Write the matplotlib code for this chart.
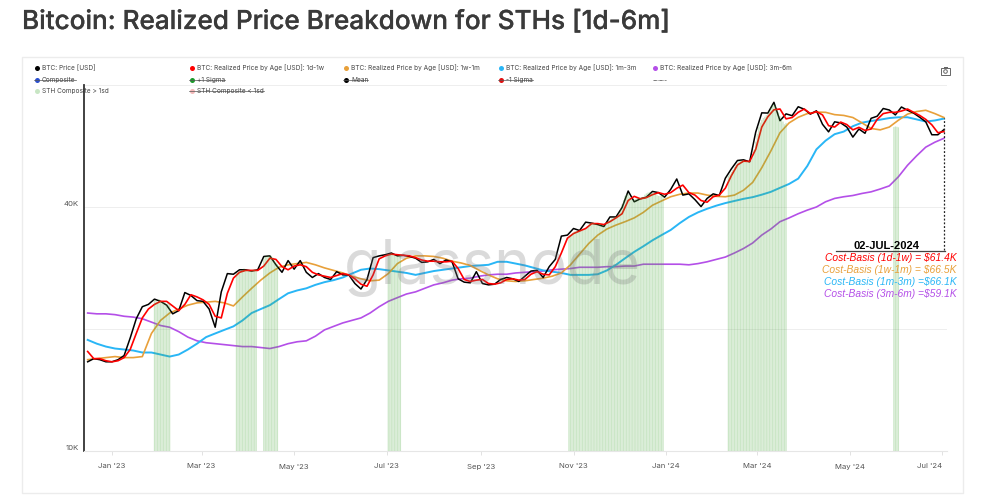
import matplotlib
matplotlib.use('Agg')
import matplotlib.pyplot as plt
import matplotlib.patheffects as pe
import numpy as np
import pandas as pd
from matplotlib.patches import Rectangle, Circle

# fine series, every 4 days
dates_fine = pd.date_range('2022-12-16', '2024-07-02', freq='4D')
price = [16.6, 16.9, 16.8, 16.6, 16.6, 16.8, 17.2, 19.0, 21.2, 22.7, 23.0, 23.7, 23.4, 22.9, 21.8, 22.2, 24.6, 24.2,
         23.5, 23.4, 22.4, 20.2, 24.7, 27.4, 27.3, 28.0, 28.0, 27.8, 28.0, 30.2, 30.3, 28.8, 27.6, 29.5, 28.1, 29.5,
         27.6, 26.8, 27.4, 26.8, 26.5, 27.7, 27.2, 27.2, 25.9, 25.1, 26.5, 30.0, 30.3, 30.5, 30.8, 30.3, 30.4, 30.2,
         29.9, 29.2, 29.3, 29.7, 29.0, 29.6, 29.3, 26.6, 26.1, 26.0, 27.7, 25.9, 25.7, 25.8, 26.5, 26.8, 26.6, 26.2,
         27.0, 27.8, 27.9, 26.8, 28.5, 29.7, 33.9, 34.1, 35.4, 35.0, 36.7, 36.5, 36.2, 35.8, 37.8, 37.8, 39.9, 43.8,
         41.2, 41.9, 42.3, 43.7, 43.4, 42.3, 44.2, 46.9, 42.8, 43.1, 41.7, 40.1, 42.0, 43.1, 42.7, 47.1, 49.7, 52.1,
         52.3, 51.7, 61.2, 68.3, 68.2, 72.5, 65.3, 67.9, 67.2, 70.7, 69.7, 67.8, 69.1, 64.0, 61.3, 64.9, 64.5, 63.0,
         59.5, 62.3, 60.8, 66.2, 67.0, 70.0, 69.4, 67.5, 70.6, 69.3, 68.2, 66.6, 64.9, 60.3, 60.3, 62.1]
rp_1d1w = [17.6, 16.9, 16.9, 16.7, 16.6, 16.7, 17.0, 17.8, 19.5, 21.3, 22.4, 23.0, 23.4, 23.4, 22.8, 22.2, 23.0, 24.3,
           24.0, 23.6, 23.0, 21.5, 21.3, 24.5, 26.7, 27.6, 27.9, 27.9, 27.9, 28.6, 29.9, 29.7, 28.5, 28.0, 28.6, 28.8,
           28.5, 27.6, 27.2, 27.0, 26.8, 27.1, 27.4, 27.2, 26.6, 25.8, 25.5, 27.2, 29.8, 30.3, 30.6, 30.5, 30.4, 30.3,
           30.0, 29.6, 29.4, 29.4, 29.3, 29.3, 29.4, 28.2, 26.5, 26.2, 26.4, 26.5, 25.9, 25.8, 26.0, 26.5, 26.6, 26.4,
           26.5, 27.3, 27.7, 27.3, 27.2, 28.5, 30.8, 33.5, 34.4, 34.9, 35.4, 36.4, 36.4, 36.2, 36.8, 37.6, 38.5, 41.5,
           42.5, 41.9, 42.2, 42.9, 43.4, 43.0, 43.4, 44.5, 45.3, 43.4, 42.8, 41.5, 41.1, 42.4, 42.8, 44.5, 47.8, 50.8,
           51.9, 51.8, 55.5, 63.0, 66.8, 69.5, 69.8, 66.0, 66.5, 68.5, 69.8, 68.0, 68.8, 67.5, 63.5, 63.0, 64.8, 63.9,
           62.0, 62.9, 61.8, 62.3, 65.8, 68.0, 68.5, 68.5, 69.0, 69.8, 68.5, 67.3, 65.8, 63.8, 61.0, 61.4]

# slower series, every 6 days
dates_slow = pd.date_range('2022-12-16', '2024-07-02', freq='6D')
rp_1w1m = [16.8, 16.9, 17.0, 17.1, 17.0, 17.0, 17.1, 19.5, 21.0, 21.9, 22.4, 22.9, 23.2, 23.3, 23.4, 23.2, 22.8, 24.0,
           25.2, 26.4, 27.5, 28.4, 28.8, 29.0, 29.2, 28.8, 28.3, 27.9, 27.5, 27.0, 26.6, 26.3, 26.4, 27.4, 29.0, 29.9,
           30.3, 30.3, 30.2, 29.9, 29.4, 29.1, 28.7, 27.9, 27.2, 26.6, 26.3, 26.2, 26.3, 26.5, 26.7, 27.0, 27.5, 28.8,
           30.6, 32.5, 34.1, 35.3, 36.1, 36.8, 37.6, 38.8, 40.4, 41.4, 42.4, 43.0, 43.3, 43.3, 42.8, 42.5, 42.4, 42.8,
           44.0, 46.0, 50.0, 55.0, 61.0, 64.5, 66.6, 68.0, 68.6, 68.5, 67.6, 67.3, 66.5, 64.5, 62.5, 62.0, 63.0, 65.5,
           67.8, 68.8, 69.3, 68.0, 66.5]
rp_1m3m = [18.8, 18.4, 18.1, 17.9, 17.8, 17.7, 17.5, 17.5, 17.3, 17.1, 17.3, 17.8, 18.4, 19.1, 19.5, 19.9, 20.3, 21.0,
           21.9, 22.4, 22.9, 23.7, 24.5, 24.9, 25.2, 25.7, 26.1, 26.4, 26.8, 27.4, 28.0, 28.2, 28.1, 27.9, 27.7, 27.5,
           27.2, 27.5, 27.8, 28.0, 28.2, 28.4, 28.6, 28.7, 28.8, 29.3, 29.3, 29.0, 28.7, 28.3, 27.9, 27.7, 27.5, 27.2,
           27.2, 27.2, 27.3, 27.9, 28.8, 29.9, 31.0, 32.0, 33.1, 34.1, 35.1, 36.5, 37.8, 38.8, 39.6, 40.3, 40.9, 41.4,
           41.9, 42.3, 42.9, 43.6, 44.6, 45.6, 47.0, 50.5, 55.5, 58.3, 60.5, 61.4, 63.3, 64.6, 65.2, 65.7, 66.3, 66.6,
           66.6, 65.8, 65.0, 65.4, 66.1]
rp_3m6m = [21.9, 21.8, 21.8, 21.7, 21.5, 21.4, 21.2, 20.8, 20.4, 20.2, 19.7, 19.1, 18.7, 18.5, 18.4, 18.3, 18.2, 18.1,
           18.1, 18.0, 17.9, 18.1, 18.4, 18.6, 18.7, 19.2, 19.9, 20.3, 20.7, 21.0, 21.3, 21.9, 22.7, 23.4, 23.9, 24.4,
           24.7, 25.2, 25.7, 26.0, 26.4, 26.6, 26.7, 27.0, 27.2, 27.3, 27.3, 27.5, 27.6, 27.7, 27.8, 28.0, 28.1, 28.2,
           28.4, 28.4, 28.4, 28.5, 28.5, 28.6, 28.6, 28.9, 28.9, 28.9, 28.9, 28.9, 28.8, 29.0, 29.3, 29.7, 30.1, 30.8,
           31.6, 32.6, 34.1, 35.3, 36.8, 37.6, 38.5, 39.3, 40.0, 41.2, 42.0, 42.4, 42.7, 43.2, 43.6, 44.3, 45.1, 47.5,
           50.7, 53.5, 56.2, 57.8, 59.1]

# days where STH composite > 1sd: first day of the run, then daily tops
band_starts = ['2023-01-29', '2023-03-24', '2023-04-11', '2023-07-02', '2023-10-29', '2024-02-11', '2024-05-30']
band_tops = [
    [23.6, 23.5, 23.3, 23.7, 23.4, 23.4, 23.3, 23.2, 23.0, 23.2, 23.0],
    [27.5, 27.6, 27.8, 27.9, 28.0, 28.2, 28.0, 27.9, 27.9, 27.8, 27.9, 28.0, 28.1, 27.9],
    [29.8, 30.2, 30.3, 30.3, 30.4, 30.3, 30.0, 29.5, 29.2, 28.9],
    [30.5, 30.6, 30.8, 30.6, 30.4, 30.3, 30.3, 30.4, 30.5],
    [33.8, 34.0, 34.3, 34.6, 34.9, 34.9, 34.8, 34.9, 35.1, 35.0, 35.1, 35.3, 35.6, 36.2, 36.4, 36.5, 36.6, 36.5,
     36.3, 36.2, 36.4, 36.3, 36.1, 36.0, 36.2, 36.6, 36.9, 37.2, 37.5, 37.7, 37.7, 37.9, 38.2, 38.8, 39.6, 40.6,
     41.6, 42.6, 43.0, 43.2, 42.4, 41.9, 41.6, 41.7, 41.9, 42.1, 42.2, 42.2, 42.3, 42.4, 42.9, 43.2, 43.4, 43.5,
     43.4, 43.3, 43.2, 43.0, 42.8, 42.6, 42.6, 42.8, 43.0],
    [47.8, 48.2, 48.8, 49.5, 50.2, 50.8, 51.4, 51.9, 52.0, 52.1, 52.0, 51.9, 51.9, 51.8, 51.8, 52.2, 53.0, 55.5,
     58.0, 60.6, 63.0, 64.6, 65.6, 66.3, 66.8, 67.4, 68.0, 69.0, 70.4, 71.5, 71.8, 71.0, 69.8, 68.5, 67.0, 66.0,
     65.0, 64.0, 64.5],
    [63.0, 63.2, 63.1, 62.9],
]

legend_rows = [
    ('BTC: Price [USD]', '#000000', 37, 68, False),
    ('BTC: Realized Price by Age [USD]: 1d-1w', '#ff0000', 192, 68, False),
    ('BTC: Realized Price by Age [USD]: 1w-1m', '#e8a03a', 346, 68, False),
    ('BTC: Realized Price by Age [USD]: 1m-3m', '#29b6f6', 501, 68, False),
    ('BTC: Realized Price by Age [USD]: 3m-6m', '#b44fe8', 655, 68, False),
    ('Composite', '#2a4fd0', 37, 80, True),
    ('+1 Sigma', '#1a9a2a', 192, 80, True),
    ('Mean', '#000000', 346, 80, True),
    ('-1 Sigma', '#e01010', 501, 80, True),
    ('STH Composite > 1sd', '#c8e6c4', 37, 91, False),
    ('STH Composite < 1sd', '#f4b8b8', 192, 91, True),
]
cost_labels = [
    ('Cost-Basis (1d-1w) = $61.4K', '#ff0000', 258),
    ('Cost-Basis (1w-1m) = $66.5K', '#e8a03a', 270),
    ('Cost-Basis (1m-3m) =$66.1K', '#29b6f6', 282),
    ('Cost-Basis (3m-6m) =$59.1K', '#b44fe8', 294),
]
xtick_dates = ['2023-01-01', '2023-03-01', '2023-05-01', '2023-07-01', '2023-09-01', '2023-11-01', '2024-01-01',
               '2024-03-01', '2024-05-01', '2024-07-01']
xtick_labels = ["Jan '23", "Mar '23", "May '23", "Jul '23", "Sep '23", "Nov '23", "Jan '24", "Mar '24", "May '24",
                "Jul '24"]
ytick_vals = [10000, 20000, 40000, 80000]
ytick_labels = ['10K', '', '40K', '']

W, H = 984, 501
plt.rcParams['font.family'] = ['Inter', 'DejaVu Sans']
fig = plt.figure(figsize=(W / 100, H / 100), dpi=100, facecolor='white')

# page layer in pixel coordinates
page = fig.add_axes([0, 0, 1, 1], zorder=0)
page.set_xlim(0, W)
page.set_ylim(H, 0)
page.axis('off')
page.add_patch(Rectangle((22, 57), 941, 436, fc='white', ec='#ececec', lw=1))
title = page.text(22, 22, 'Bitcoin: Realized Price Breakdown for STHs [1d-6m]', fontsize=18.8, fontweight=500,
                  color='#3a3a3a', va='center', ha='left')
# faux medium weight
title.set_path_effects([pe.withStroke(linewidth=0.2, foreground='#3a3a3a')])

# main chart
left, right, top, bottom = 84, 947, 85, 451
ax = fig.add_axes([left / W, 1 - bottom / H, (right - left) / W, (bottom - top) / H], zorder=1)
ax.patch.set_alpha(0)
ax.set_yscale('log')
ax.set_ylim(10000, 80000)
ax.set_xlim(pd.Timestamp('2022-12-13 14:00'), pd.Timestamp('2024-07-04'))

ax.plot(dates_slow, np.array(rp_3m6m) * 1000, color='#b44fe8', lw=1.2, zorder=4)
ax.plot(dates_slow, np.array(rp_1m3m) * 1000, color='#29b6f6', lw=1.4, zorder=4)
ax.plot(dates_slow, np.array(rp_1w1m) * 1000, color='#e8a03a', lw=1.2, zorder=5)
ax.plot(dates_fine, np.array(price) * 1000, color='#000000', lw=1.1, zorder=6)
ax.plot(dates_fine, np.array(rp_1d1w) * 1000, color='#ff0000', lw=1.2, zorder=7)

# green bands sit over the lines, semi transparent
for start, tops in zip(band_starts, band_tops):
    days = pd.date_range(start, periods=len(tops), freq='D')
    heights = np.array(tops) * 1000 - 10000
    bars = ax.bar(days, heights, bottom=10000, width=0.82, color='#55ad48', alpha=0.3, linewidth=0, zorder=8)
    for bar in bars:
        bar.set_snap(False)

ax.text(0.473, 0.50, 'glassnode', transform=ax.transAxes, fontsize=44, color='#777777', alpha=0.27,
        ha='center', va='center', family='Inter', zorder=9)

# dotted drop line from last value
ax.plot([dates_fine[-1], dates_fine[-1]], [31300, rp_1w1m[-1] * 1000], color='#222222', lw=0.9,
        ls=(0, (1.5, 1.5)), zorder=10)

ax.set_yticks(ytick_vals)
ax.set_yticklabels(ytick_labels)
ax.yaxis.set_minor_locator(matplotlib.ticker.NullLocator())
ax.set_xticks(pd.to_datetime(xtick_dates))
ax.set_xticklabels(xtick_labels)
ax.tick_params(axis='x', length=3, color='#dddddd', labelsize=5.6, labelcolor='#555555', pad=6, width=0.6)
ax.tick_params(axis='y', length=0, labelsize=5.6, labelcolor='#555555', pad=4)
for lab in ax.get_yticklabels():
    lab.set_va('bottom')
ax.get_xticklabels()[-1].set_ha('right')
ax.grid(axis='y', color='#eeeeee', lw=0.7)
ax.set_axisbelow(True)
for side in ['top', 'right']:
    ax.spines[side].set_visible(False)
ax.spines['bottom'].set_color('#e6e6e6')
ax.spines['left'].set_color('#333333')
ax.spines['left'].set_linewidth(1.3)

# legend, drawn by hand to keep the struck-through entries
fig.canvas.draw()
renderer = fig.canvas.get_renderer()
for label, colour, x, y, struck in legend_rows:
    page.plot([x], [y], 'o', ms=3.6, color=colour, mew=0)
    txt = page.text(x + 5, y, label, fontsize=4.7, color='#444444', va='center', ha='left')
    if struck:
        box = txt.get_window_extent(renderer)
        page.plot([x - 3, box.x1], [y, y], color='#555555', lw=0.5)
page.plot([653, 666], [80, 80], color='#666666', lw=0.6, ls=(0, (4, 1, 1, 1)))

# camera icon
page.add_patch(Rectangle((941, 68), 9, 7, fc='none', ec='#666666', lw=0.7))
page.add_patch(Circle((945.5, 71.5), 1.8, fc='none', ec='#666666', lw=0.7))
page.add_patch(Rectangle((943.5, 66.8), 4, 1.2, fc='#666666', ec='none'))

# end-of-series annotation, above the chart layer
over = fig.add_axes([0, 0, 1, 1], zorder=2)
over.set_xlim(0, W)
over.set_ylim(H, 0)
over.axis('off')
over.plot([836, 945], [250.5, 250.5], color='#444444', lw=0.9)
over.text(886, 245.5, '02-JUL-2024', fontsize=8, fontweight='bold', family='Liberation Sans', color='black',
          ha='center', va='center')
for label, colour, y in cost_labels:
    over.text(956.5, y, label, fontsize=7.4, style='italic', family='Liberation Sans', color=colour, ha='right',
              va='center')

fig.savefig('out.png', dpi=100)
